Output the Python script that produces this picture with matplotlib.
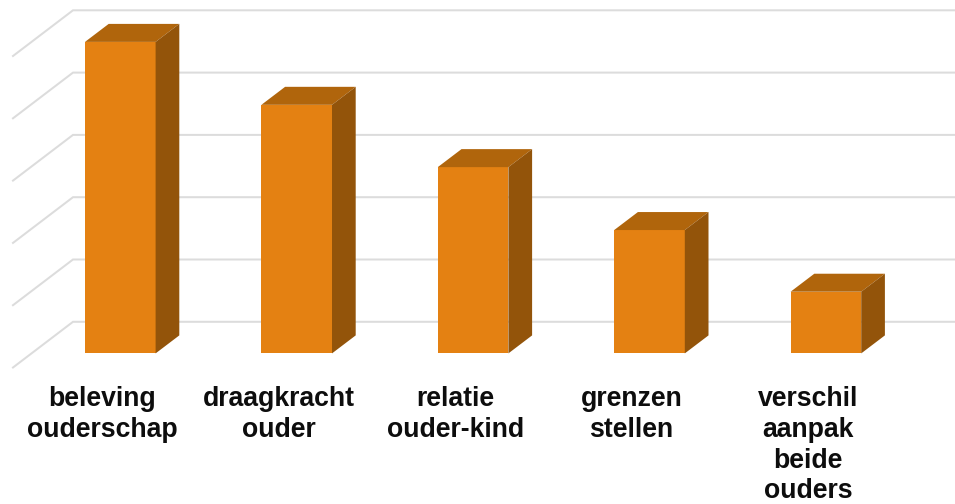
from __future__ import annotations

import matplotlib

matplotlib.use("Agg")
import matplotlib.pyplot as plt
from matplotlib.patches import Polygon

categories = ["beleving\nouderschap", "draagkracht\nouder", "relatie\nouder-kind", "grenzen\nstellen", "verschil\naanpak\nbeide\nouders"]
values = [5, 3.99, 2.99, 1.98, 0.99]
grid_levels = [0, 1, 2, 3, 4, 5]

FRONT = "#e48112"
TOP = "#b0650c"
SIDE = "#93540a"
GRID = "#dcdcdc"

# one category = 176.4 px, one value unit = 62.3 px
PX_X = 176.4
PX_Y = 62.3
half_width = 35.3 / PX_X
depth_x = 23.7 / PX_X
depth_y = 18.0 / PX_Y
wall_left = -47.3 / PX_X
wall_y = 31.6 / PX_Y
side_x = -60.0 / PX_X
side_y = -45.7 / PX_Y

fig = plt.figure(figsize=(9.55, 5.04), dpi=100)
ax = fig.add_axes([0, 0, 1, 1])
ax.set_xlim(-120.3 / PX_X, (955 - 120.3) / PX_X)
ax.set_ylim((353.4 - 504) / PX_Y, 353.4 / PX_Y)
ax.set_axis_off()

wall_right = ax.get_xlim()[1]
for level in grid_levels:
    y = level + wall_y
    ax.plot(
        [wall_left + side_x, wall_left, wall_right],
        [y + side_y, y, y],
        color=GRID,
        lw=1.45,
        solid_joinstyle="miter",
        zorder=1,
    )

for i, value in enumerate(values):
    x0 = i - half_width
    x1 = i + half_width
    ax.add_patch(Polygon([(x0, 0), (x1, 0), (x1, value), (x0, value)], fc=FRONT, ec="none", zorder=3))
    ax.add_patch(
        Polygon(
            [(x0, value), (x1, value), (x1 + depth_x, value + depth_y), (x0 + depth_x, value + depth_y)],
            fc=TOP,
            ec="none",
            zorder=3,
        )
    )
    ax.add_patch(
        Polygon(
            [(x1, 0), (x1 + depth_x, depth_y), (x1 + depth_x, value + depth_y), (x1, value)],
            fc=SIDE,
            ec="none",
            zorder=3,
        )
    )
    ax.text(
        i - 18.0 / PX_X,
        -33.0 / PX_Y,
        categories[i],
        ha="center",
        va="top",
        fontsize=19.2,
        fontweight="bold",
        family="Liberation Sans",
        linespacing=1.23,
        color="#0d0d0d",
    )

fig.savefig("out.png", dpi=100, facecolor="white")
plt.close(fig)
